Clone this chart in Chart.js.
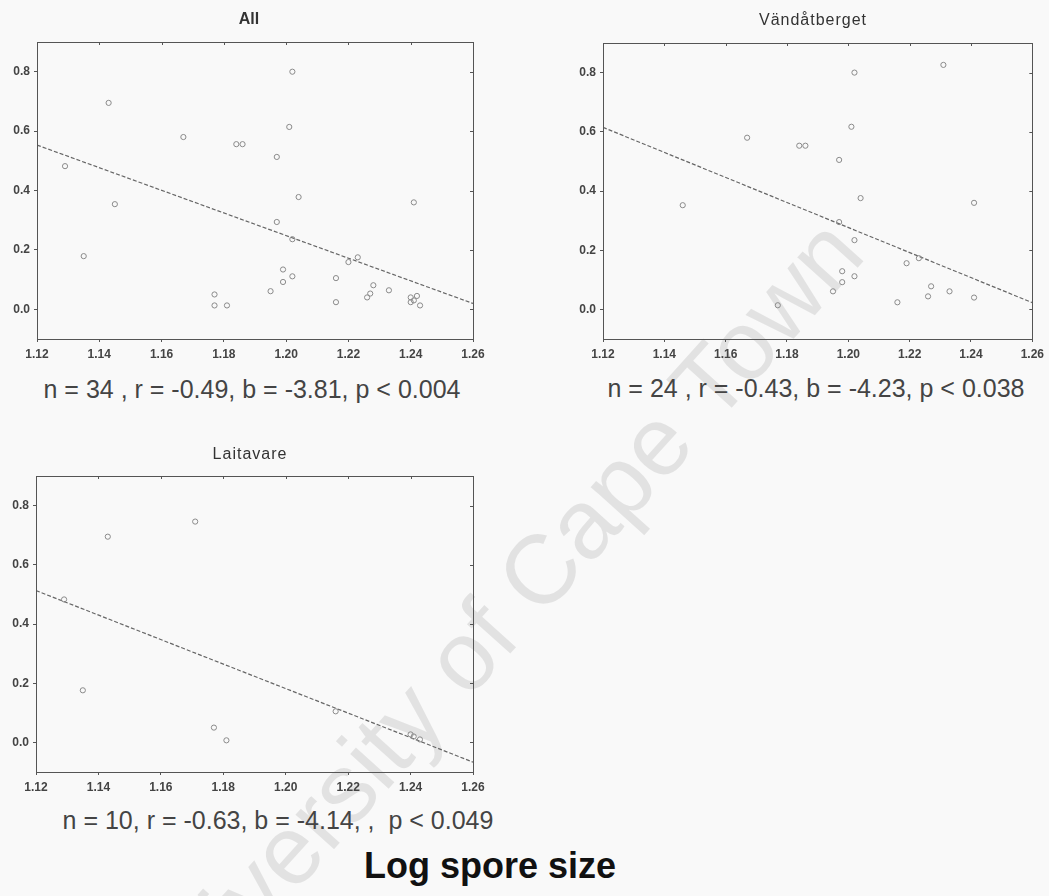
<!DOCTYPE html>
<html>
<head>
<meta charset="utf-8">
<script src="https://cdn.jsdelivr.net/npm/chart.js@4"></script>
<style>
  body { margin: 0; background: #f9f9f9; font-family: "Liberation Sans", Arial, sans-serif; }
  #page { position: relative; width: 1049px; height: 896px; overflow: hidden; }
  canvas { position: absolute; z-index: 1; }
  .txt { position: absolute; transform: translate(-50%, -50%); white-space: nowrap; color: #333; z-index: 2; }
  .ttl { font-size: 16px; letter-spacing: 1px; color: #333; }
  .stat { font-size: 25px; color: #444; }
  #wm { position: absolute; left: 490px; top: 626px; transform: translate(-50%, -50%) rotate(-48deg);
        font-size: 98px; color: rgba(0,0,0,0.09); white-space: nowrap; z-index: 0; }
</style>
</head>
<body>
<div id="page">
  <div id="wm">University of Cape Town</div>

  <canvas id="cAll" style="left:0px;top:0px;width:500px;height:370px"></canvas>
  <canvas id="cVan" style="left:566px;top:0px;width:483px;height:370px"></canvas>
  <canvas id="cLai" style="left:0px;top:434px;width:500px;height:370px"></canvas>

  <div class="txt ttl" style="left:249px;top:19px;font-weight:bold;letter-spacing:0">All</div>
  <div class="txt ttl" style="left:813px;top:20px">Vändåtberget</div>
  <div class="txt ttl" style="left:250px;top:454px">Laitavare</div>

  <div class="txt stat" style="left:252px;top:389px">n = 34 , r = -0.49, b = -3.81, p &lt; 0.004</div>
  <div class="txt stat" style="left:816px;top:388px">n = 24 , r = -0.43, b = -4.23, p &lt; 0.038</div>
  <div class="txt stat" style="left:278px;top:820px">n = 10, r = -0.63, b = -4.14, ,&nbsp; p &lt; 0.049</div>

  <div class="txt" style="left:490px;top:866px;font-size:36px;font-weight:bold;color:#111">Log spore size</div>
</div>

<script>
// axis ticks
const xTicks = [1.12, 1.14, 1.16, 1.18, 1.20, 1.22, 1.24, 1.26];
const yTicks = [0.0, 0.2, 0.4, 0.6, 0.8];

// All sites
const allX = [1.202, 1.143, 1.201, 1.167, 1.184, 1.186, 1.197, 1.129, 1.204, 1.145, 1.241, 1.197,
              1.202, 1.135, 1.220, 1.223, 1.199, 1.202, 1.199, 1.216, 1.195, 1.177, 1.177, 1.181,
              1.216, 1.228, 1.227, 1.226, 1.233, 1.240, 1.241, 1.243, 1.240, 1.242];
const allY = [0.80, 0.695, 0.614, 0.58, 0.556, 0.556, 0.513, 0.482, 0.378, 0.354, 0.36, 0.294,
              0.236, 0.179, 0.159, 0.175, 0.134, 0.111, 0.092, 0.105, 0.061, 0.05, 0.013, 0.013,
              0.024, 0.081, 0.053, 0.04, 0.064, 0.04, 0.03, 0.013, 0.024, 0.045];

// Vändåtberget
const vanX = [1.202, 1.231, 1.201, 1.167, 1.184, 1.186, 1.197, 1.146, 1.204, 1.241, 1.197, 1.202,
              1.219, 1.223, 1.198, 1.202, 1.198, 1.195, 1.177, 1.216, 1.227, 1.226, 1.233, 1.241];
const vanY = [0.80, 0.826, 0.617, 0.58, 0.553, 0.553, 0.505, 0.352, 0.376, 0.36, 0.295, 0.234,
              0.156, 0.173, 0.129, 0.112, 0.092, 0.061, 0.014, 0.024, 0.078, 0.044, 0.061, 0.04];

// Laitavare
const laiX = [1.171, 1.143, 1.129, 1.135, 1.177, 1.181, 1.216, 1.240, 1.243, 1.241];
const laiY = [0.746, 0.695, 0.483, 0.176, 0.05, 0.007, 0.105, 0.027, 0.01, 0.02];

// regression: value at x = 1.12 and slope b
const fitStart = [0.553, 0.615, 0.513];
const slopes = [-3.81, -4.23, -4.14];

const X_MIN = 1.12, X_MAX = 1.26, Y_MIN = -0.1, Y_MAX = 0.9;
const INK = '#555';

Chart.defaults.font.family = '"Liberation Sans", Arial, sans-serif';

// closed box round the plot plus mirrored ticks on top and right
const boxPlugin = {
  id: 'box',
  afterDatasetsDraw(chart) {
    const { ctx, chartArea: a, scales } = chart;
    ctx.save();
    ctx.strokeStyle = INK;
    ctx.lineWidth = 1;
    ctx.strokeRect(Math.round(a.left) + 0.5, Math.round(a.top) + 0.5,
                   Math.round(a.width), Math.round(a.height));
    ctx.beginPath();
    scales.x.ticks.forEach(t => {
      const px = Math.round(scales.x.getPixelForValue(t.value)) + 0.5;
      ctx.moveTo(px, a.top); ctx.lineTo(px, a.top + 3);
    });
    scales.y.ticks.forEach(t => {
      const py = Math.round(scales.y.getPixelForValue(t.value)) + 0.5;
      ctx.moveTo(a.right, py); ctx.lineTo(a.right - 3, py);
    });
    ctx.stroke();
    ctx.restore();
  }
};

function panel(id, xs, ys, k, pad) {
  const pts = xs.map((x, i) => ({ x: x, y: ys[i] }));
  const fit = [
    { x: X_MIN, y: fitStart[k] },
    { x: X_MAX, y: fitStart[k] + slopes[k] * (X_MAX - X_MIN) }
  ];
  return new Chart(document.getElementById(id), {
    type: 'scatter',
    data: {
      datasets: [
        {
          data: pts,
          pointRadius: 2.6,
          pointBorderWidth: 1,
          borderColor: '#8a8a8a',
          backgroundColor: 'rgba(0,0,0,0)'
        },
        {
          type: 'line',
          data: fit,
          borderColor: '#666',
          borderWidth: 1.2,
          borderDash: [4, 2],
          pointRadius: 0,
          fill: false
        }
      ]
    },
    options: {
      responsive: false,
      animation: false,
      layout: { padding: { top: pad.top, right: pad.right, bottom: 0, left: 0 } },
      plugins: { legend: { display: false }, tooltip: { enabled: false } },
      scales: {
        x: {
          type: 'linear',
          min: X_MIN, max: X_MAX,
          afterBuildTicks: s => { s.ticks = xTicks.map(v => ({ value: v })); },
          afterFit: s => { s.height = pad.xh; },
          grid: { drawOnChartArea: false, drawTicks: true, tickLength: 3, color: INK },
          border: { display: false },
          ticks: { callback: v => v.toFixed(2), padding: 5, maxRotation: 0, autoSkip: false,
                   color: '#444', font: { size: 12, weight: 'bold' } }
        },
        y: {
          type: 'linear',
          min: Y_MIN, max: Y_MAX,
          afterBuildTicks: s => { s.ticks = yTicks.map(v => ({ value: v })); },
          afterFit: s => { s.width = pad.yw; },
          grid: { drawOnChartArea: false, drawTicks: true, tickLength: 3, color: INK },
          border: { display: false },
          ticks: { callback: v => v.toFixed(1), padding: 4,
                   color: '#444', font: { size: 12, weight: 'bold' } }
        }
      }
    },
    plugins: [boxPlugin]
  });
}

panel('cAll', allX, allY, 0, { top: 42, right: 27, yw: 37, xh: 31 });
panel('cVan', vanX, vanY, 1, { top: 43, right: 12, yw: 37, xh: 31 });
panel('cLai', laiX, laiY, 2, { top: 42, right: 27, yw: 36, xh: 32 });
</script>
</body>
</html>
